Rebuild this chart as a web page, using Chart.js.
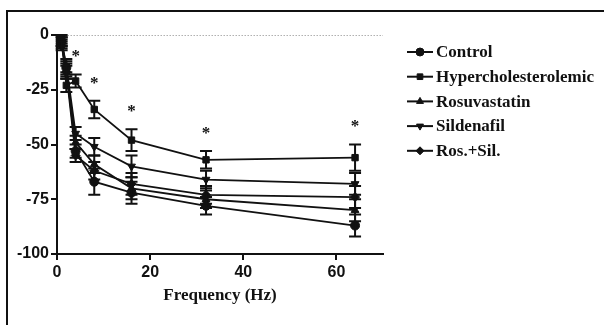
<!DOCTYPE html>
<html lang="en">
<head>
    <meta charset="UTF-8">
    <title>Relaxation vs frequency</title>
    <style>
        body { margin: 0; background: #fff; }
        #myChart { display: block; }
    </style>
</head>
<body>
    <canvas id="myChart" width="604" height="325"></canvas>

    <script src="https://cdn.jsdelivr.net/npm/chart.js"></script>
    <script>
        // data (% relaxation, mean and SEM)
        const frequencies = [1, 2, 4, 8, 16, 32, 64];
        const seriesNames = ['Control', 'Hypercholesterolemic', 'Rosuvastatin', 'Sildenafil', 'Ros.+Sil.'];
        const control = [-3, -15, -53, -67, -72, -78, -87];
        const hyper = [-2, -23, -21, -34, -48, -57, -56];
        const rosuvastatin = [-4, -16, -49, -59, -70, -75, -80];
        const sildenafil = [-3, -14, -45, -51, -60, -66, -68];
        const rosSil = [-5, -17, -55, -62, -68, -73, -74];
        const controlErr = [2, 3, 3, 6, 5, 4, 5];
        const hyperErr = [2, 3, 3, 4, 5, 4, 6];
        const rosuvastatinErr = [2, 3, 3, 4, 5, 4, 5];
        const sildenafilErr = [2, 3, 3, 4, 5, 4, 5];
        const rosSilErr = [2, 3, 3, 4, 5, 4, 5];
        // frequencies where hypercholesterolemic differs (*)
        const starFreqs = [4, 8, 16, 32, 64];
        const xTicks = [0, 20, 40, 60];
        const yTicks = [0, -25, -50, -75, -100];

        const markers = [
            { style: 'circle', rot: 0 },
            { style: 'rect', rot: 0 },
            { style: 'triangle', rot: 0 },
            { style: 'triangle', rot: 180 },
            { style: 'rectRot', rot: 0 },
        ];
        const values = [control, hyper, rosuvastatin, sildenafil, rosSil];
        const errors = [controlErr, hyperErr, rosuvastatinErr, sildenafilErr, rosSilErr];

        const datasets = values.map((vals, i) => ({
            label: seriesNames[i],
            data: frequencies.map((f, j) => ({ x: f, y: vals[j] })),
            err: errors[i],
            borderColor: '#111',
            backgroundColor: '#111',
            borderWidth: 1.8,
            pointStyle: markers[i].style,
            pointRotation: markers[i].rot,
            pointRadius: 4.5,
            pointBorderWidth: 1,
            tension: 0,
        }));

        const frame = {
            id: 'frame',
            beforeDraw(chart) {
                const { ctx, width, height } = chart;
                ctx.save();
                ctx.fillStyle = '#fff';
                ctx.fillRect(0, 0, width, height);
                ctx.strokeStyle = '#111';
                ctx.lineWidth = 2;
                ctx.beginPath();
                ctx.moveTo(width + 5, 11);
                ctx.lineTo(7, 11);
                ctx.lineTo(7, height + 5);
                ctx.stroke();
                ctx.restore();
            }
        };

        const zeroLine = {
            id: 'zeroLine',
            beforeDatasetsDraw(chart) {
                const { ctx, scales: { x, y } } = chart;
                const yy = Math.round(y.getPixelForValue(0)) + 0.5;
                ctx.save();
                ctx.strokeStyle = '#888';
                ctx.lineWidth = 1;
                ctx.setLineDash([1, 2]);
                ctx.beginPath();
                ctx.moveTo(x.getPixelForValue(1), yy);
                ctx.lineTo(x.right, yy);
                ctx.stroke();
                ctx.restore();
            }
        };

        const errorBars = {
            id: 'errorBars',
            afterDatasetsDraw(chart) {
                const { ctx, scales: { x, y } } = chart;
                ctx.save();
                ctx.strokeStyle = '#111';
                ctx.lineWidth = 2;
                chart.data.datasets.forEach(ds => {
                    ds.data.forEach((p, j) => {
                        const px = x.getPixelForValue(p.x);
                        const top = y.getPixelForValue(p.y + ds.err[j]);
                        const bot = y.getPixelForValue(p.y - ds.err[j]);
                        ctx.beginPath();
                        ctx.moveTo(px, top);
                        ctx.lineTo(px, bot);
                        ctx.moveTo(px - 6, top);
                        ctx.lineTo(px + 6, top);
                        ctx.moveTo(px - 6, bot);
                        ctx.lineTo(px + 6, bot);
                        ctx.stroke();
                    });
                });
                // significance stars above hypercholesterolemic
                ctx.fillStyle = '#111';
                ctx.font = 'bold 17px "Liberation Serif"';
                ctx.textAlign = 'center';
                ctx.textBaseline = 'middle';
                starFreqs.forEach(f => {
                    const j = frequencies.indexOf(f);
                    ctx.fillText('*', x.getPixelForValue(f), y.getPixelForValue(hyper[j] + hyperErr[j] + 8));
                });
                ctx.restore();
            }
        };

        const sideLegend = {
            id: 'sideLegend',
            afterDraw(chart) {
                const { ctx } = chart;
                ctx.save();
                ctx.font = 'bold 17px "Liberation Serif"';
                ctx.textBaseline = 'middle';
                ctx.fillStyle = '#111';
                ctx.strokeStyle = '#111';
                chart.data.datasets.forEach((ds, i) => {
                    const yy = 52 + i * 24.7;
                    ctx.lineWidth = 2;
                    ctx.beginPath();
                    ctx.moveTo(407, yy);
                    ctx.lineTo(433, yy);
                    ctx.stroke();
                    ctx.lineWidth = 1;
                    Chart.helpers.drawPoint(ctx, {
                        pointStyle: ds.pointStyle, rotation: ds.pointRotation,
                        radius: 4, borderWidth: 1
                    }, 420, yy);
                    ctx.fillText(ds.label, 436, yy + 1);
                });
                ctx.restore();
            }
        };

        new Chart(document.getElementById('myChart'), {
            type: 'line',
            data: { datasets: datasets },
            plugins: [frame, zeroLine, errorBars, sideLegend],
            options: {
                responsive: false,
                animation: false,
                layout: { padding: { left: 0, right: 221, top: 35, bottom: 15 } },
                plugins: { legend: { display: false }, tooltip: { enabled: false } },
                scales: {
                    x: {
                        type: 'linear',
                        min: 0,
                        max: 70,
                        afterBuildTicks: s => { s.ticks = xTicks.map(v => ({ value: v })); },
                        afterFit: s => { s.height = 56; },
                        grid: { drawOnChartArea: false, tickLength: 6, color: '#111', lineWidth: 2 },
                        border: { color: '#111', width: 2 },
                        ticks: { color: '#111', padding: 3, font: { family: 'Liberation Sans', weight: 'bold', size: 16 } },
                        title: {
                            display: true, text: 'Frequency (Hz)', color: '#111',
                            padding: { top: 4, bottom: 4 },
                            font: { family: 'Liberation Serif', weight: 'bold', size: 17 }
                        }
                    },
                    y: {
                        min: -100,
                        max: 0,
                        afterBuildTicks: s => { s.ticks = yTicks.map(v => ({ value: v })); },
                        afterFit: s => { s.width = 57; },
                        grid: { drawOnChartArea: false, tickLength: 6, color: '#111', lineWidth: 2 },
                        border: { color: '#111', width: 2 },
                        ticks: { color: '#111', padding: 2, font: { family: 'Liberation Sans', weight: 'bold', size: 16 } }
                    }
                }
            }
        });
    </script>
</body>
</html>
